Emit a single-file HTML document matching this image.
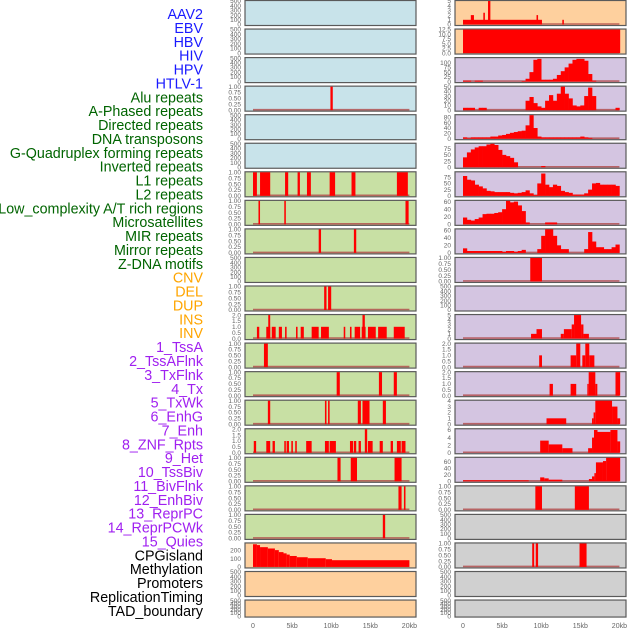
<!DOCTYPE html>
<html><head><meta charset="utf-8"><style>
html,body{margin:0;padding:0;background:#fff;}
svg{display:block;}
text{font-family:"Liberation Sans",sans-serif;}
</style></head><body>
<svg id="chart" width="630" height="630" viewBox="0 0 630 630" xmlns="http://www.w3.org/2000/svg"></svg>
<script>
// ---- track labels ----
const labelNames = ["AAV2","EBV","HBV","HIV","HPV","HTLV-1","Alu repeats","A-Phased repeats","Directed repeats","DNA transposons","G-Quadruplex forming repeats","Inverted repeats","L1 repeats","L2 repeats","Low_complexity A/T rich regions","Microsatellites","MIR repeats","Mirror repeats","Z-DNA motifs","CNV","DEL","DUP","INS","INV","1_TssA","2_TssAFlnk","3_TxFlnk","4_Tx","5_TxWk","6_EnhG","7_Enh","8_ZNF_Rpts","9_Het","10_TssBiv","11_BivFlnk","12_EnhBiv","13_ReprPC","14_ReprPCWk","15_Quies","CPGisland","Methylation","Promoters","ReplicationTiming","TAD_boundary"];
const labelGroups = [0,0,0,0,0,0,1,1,1,1,1,1,1,1,1,1,1,1,1,2,2,2,2,2,3,3,3,3,3,3,3,3,3,3,3,3,3,3,3,4,4,4,4,4];
const groupColors = ["#1a1aff","#006400","#ffa500","#a020f0","#000000"];
// ---- x axis ----
const xTickValues = [0,5,10,15,20];
const xTickLabels = ["0","5kb","10kb","15kb","20kb"];
// ---- y tick sets ----
const tBin = [1,0.75,0.5,0.25,0];
const tBinLab = ["1.00","0.75","0.50","0.25","0.00"];
const tTwo = [2,1.5,1,0.5,0];
const tTwoLab = ["2.0","1.5","1.0","0.5","0.0"];
const tEmpty = [500,400,300,200,100,0];
const tEmptyLab = ["500","400","300","200","100","0"];
// ---- left column data (segments: start kb, end kb, value) ----
const L3 = [[9.9,10.2,1]];
const L6 = [[0,0.5,1],[0.9,2.2,1],[4.1,4.5,1],[5.7,6.0,1],[6.9,7.4,1],[9.8,10.5,1],[12.6,13.1,1],[18.4,19.8,1]];
const L7 = [[0.7,0.9,1],[4.0,4.2,1],[19.5,19.9,1]];
const L8 = [[8.4,8.7,1],[12.9,13.2,1]];
const L10 = [[9.1,9.4,1],[9.6,10.0,1]];
const L11 = [[0.5,0.8,1],[1.7,2.2,1],[1.95,2.2,2],[2.4,2.9,1],[3.3,3.7,1],[4.1,4.3,1],[5.5,5.7,1],[6.1,6.5,1],[7.5,8.4,1],[8.7,9.7,1],[11.6,11.8,1],[12.4,12.6,1],[13.0,13.7,1],[13.9,14.4,1],[14.0,14.3,2],[14.7,15.7,1],[16.0,17.1,1],[18.0,19.4,1]];
const L12 = [[1.4,1.9,1]];
const L13 = [[10.7,11.1,1],[16.1,16.5,1],[18.0,18.4,1]];
const L14 = [[1.9,2.2,1],[9.2,9.4,1],[9.6,9.8,1],[13.4,13.8,1],[14.0,14.9,1],[16.6,17.0,1]];
const L15 = [[0.1,0.4,1],[1.7,2.2,1],[2.5,2.8,1],[4.0,4.2,1],[4.3,4.6,1],[4.9,5.1,1],[5.4,5.6,1],[6.8,7.5,1],[9.2,9.7,1],[9.8,10.6,1],[12.4,12.8,1],[12.9,13.2,1],[13.5,13.8,1],[14.3,14.6,2],[14.7,15.3,1],[16.2,16.6,1],[17.6,17.9,1],[18.4,18.9,1],[19.0,19.5,1]];
const L16 = [[10.8,11.2,1],[12.5,13.3,1],[18.1,19.0,1]];
const L17 = [[18.6,19.0,1],[19.3,19.5,1]];
const L18 = [[16.6,16.9,1]];
const L19 = [[0,0.5,275],[0.5,0.9,265],[0.9,1.9,240],[1.9,2.8,224],[2.8,3.3,204],[3.3,3.9,180],[3.9,4.3,165],[4.3,4.7,150],[4.7,5.6,133],[5.6,7.0,118],[7.0,9.3,106],[9.3,10.1,94],[10.1,20,82]];
// ---- right column data ----
const R0 = [[0,10.1,1],[1.0,1.4,2],[2.6,2.8,2.5],[3.2,3.5,5],[9.4,9.6,2],[12.7,12.9,1]];
const R1 = [[0,20.1,12.5]];
// profiles: 0.5 kb bins, 0..20 kb
const R2 = [5,5,0,5,5,0,0,0,0,0,0,0,0,0,0,3,15,50,115,120,10,10,10,15,35,55,75,95,115,120,120,110,40,5,0,0,0,0,0,0];
const R3 = [5,5,5,0,5,5,0,0,0,0,0,0,0,0,0,0,20,28,15,8,5,20,32,20,35,50,35,25,10,8,10,30,48,30,0,0,0,0,0,5];
const R4 = [5,2,5,5,5,5,5,8,8,12,14,18,22,25,28,30,50,88,40,8,5,5,5,5,5,5,5,5,5,5,8,5,3,0,0,0,0,0,0,0];
const R5 = [40,60,72,80,85,85,92,95,90,70,50,45,38,20,0,0,0,0,0,0,5,0,0,0,0,0,0,0,0,0,0,0,0,0,0,0,0,0,0,0];
const R6 = [80,65,62,45,38,30,20,18,15,15,15,15,12,10,12,15,22,10,3,50,90,45,35,45,40,20,15,12,5,5,5,10,25,50,52,45,45,45,45,40];
const R7 = [18,12,10,14,18,27,28,28,30,32,40,62,58,60,50,35,5,0,0,0,0,5,5,5,0,0,0,0,0,0,0,0,0,0,0,0,0,0,0,0];
const R8 = [12,5,5,5,5,5,5,5,5,5,3,5,5,3,5,8,0,0,0,10,45,62,62,45,20,10,10,0,0,0,0,10,55,30,15,15,10,10,15,22];
const R9 = [[8.6,10.1,1]];
const R11 = [[8.7,9.4,1],[9.4,10.1,2],[12.5,12.9,1],[12.9,13.9,2],[13.9,14.2,3],[14.2,15.1,5],[15.1,15.4,3],[15.4,16.1,1]];
const R12 = [[9.74,10.1,1],[13.76,14.48,1],[14.48,15.0,2],[15.26,15.64,1],[15.64,16.15,2],[16.15,16.8,1]];
const R13 = [[11.07,11.5,1],[13.76,14.48,1],[15.9,16.07,1],[16.07,16.92,2],[16.92,17.18,1],[19.5,20.1,2]];
const R14 = [[10.68,13.2,1],[16.5,16.7,1],[16.7,16.92,2],[16.92,19.06,4],[19.06,19.75,3],[19.75,20.1,1]];
const R15 = [[9.87,10.96,3.2],[10.96,12.7,2.2],[12.7,14.0,1.2],[16.0,16.5,1.2],[16.5,16.75,4],[16.75,17.2,6],[17.2,18.85,5.5],[18.85,19.75,6],[19.75,20.1,3]];
const R16 = [[0,8.4,3],[9.87,10.4,12],[10.4,10.96,9],[10.96,12.7,5],[16.1,16.5,7],[16.5,16.8,15],[16.8,17.0,25],[17.0,17.9,58],[17.9,18.3,62],[18.3,20.1,72]];
const R17 = [[9.25,10.1,1],[14.3,16.1,1]];
const R19 = [[8.85,9.1,1],[9.3,9.6,1],[14.9,15.8,1]];

const BLUE="#c8e3ea", GREEN="#c8e0a4", ORANGE="#fed09e", PURPLE="#d4c5e1", GRAY="#d0d0d0";
const leftBg = [BLUE,BLUE,BLUE,BLUE,BLUE,BLUE,GREEN,GREEN,GREEN,GREEN,GREEN,GREEN,GREEN,GREEN,GREEN,GREEN,GREEN,GREEN,GREEN,ORANGE,ORANGE,ORANGE];
const rightBg = [ORANGE,ORANGE,PURPLE,PURPLE,PURPLE,PURPLE,PURPLE,PURPLE,PURPLE,PURPLE,PURPLE,PURPLE,PURPLE,PURPLE,PURPLE,PURPLE,PURPLE,GRAY,GRAY,GRAY,GRAY,GRAY];

function E(){return {ymax:500,ticks:tEmpty,labs:tEmptyLab};}
function B(d){return {segs:d,ymax:1,ticks:tBin,labs:tBinLab};}
function T(d){return {segs:d,ymax:2,ticks:tTwo,labs:tTwoLab};}
const leftPanels = [E(),E(),E(),B(L3),E(),E(),B(L6),B(L7),B(L8),E(),B(L10),T(L11),B(L12),B(L13),B(L14),T(L15),B(L16),B(L17),B(L18),
  {segs:L19,ymax:285,ticks:[200,100,0],labs:["200","100","0"],nobase:true},E(),E()];
const rightPanels = [
  {segs:R0,ymax:5,ticks:[5,4,3,2,1,0],labs:["5","4","3","2","1","0"]},
  {segs:R1,ymax:12.5,ticks:[12.5,10,7.5,5,2.5,0],labs:["12.5","10.0","7.5","5.0","2.5","0.0"]},
  {prof:R2,ymax:124,ticks:[100,75,50,25,0],labs:["100","75","50","25","0"]},
  {prof:R3,ymax:50,ticks:[50,40,30,20,10,0],labs:["50","40","30","20","10","0"]},
  {prof:R4,ymax:88,ticks:[80,60,40,20,0],labs:["80","60","40","20","0"]},
  {prof:R5,ymax:95,ticks:[75,50,25,0],labs:["75","50","25","0"]},
  {prof:R6,ymax:95,ticks:[75,50,25,0],labs:["75","50","25","0"]},
  {prof:R7,ymax:62,ticks:[60,40,20,0],labs:["60","40","20","0"]},
  {prof:R8,ymax:62,ticks:[60,40,20,0],labs:["60","40","20","0"]},
  B(R9),E(),
  {segs:R11,ymax:5,ticks:[5,4,3,2,1,0],labs:["5","4","3","2","1","0"]},
  T(R12),T(R13),
  {segs:R14,ymax:4,ticks:[4,3,2,1,0],labs:["4","3","2","1","0"]},
  {segs:R15,ymax:6.2,ticks:[6,4,2,0],labs:["6","4","2","0"]},
  {segs:R16,ymax:72,ticks:[60,40,20,0],labs:["60","40","20","0"]},
  B(R17),E(),B(R19),E(),E()];

const NS="http://www.w3.org/2000/svg";
const svg=document.getElementById('chart');
function mk(tag,attrs,parent){const e=document.createElementNS(NS,tag);for(const k in attrs)e.setAttribute(k,attrs[k]);(parent||svg).appendChild(e);return e;}

// labels
labelNames.forEach((n,i)=>{
  const t=mk('text',{x:203,y:(14+13.88*i+5).toFixed(1),'text-anchor':'end','font-size':'14.3',fill:groupColors[labelGroups[i]]});
  t.textContent=n;
  
  
});

function drawColumn(panels,bgs,px,x0,side){
  const xs = kb => x0 + kb*7.82;
  panels.forEach((p,i)=>{
    const top = i*28.55, h = (i===21)?17:25;
    const g=mk('g',{});
    
    
    mk('rect',{x:px,y:top+0.5,width:171,height:h,fill:bgs[i],stroke:'#5a5a5a','stroke-width':1.2},g);
    const ys = v => top + h - 0.5 - Math.min(v,p.ymax)/p.ymax*(h-1.5);
    p.ticks.forEach((tv,k)=>{
      const t=mk('text',{x:px-4,y:(ys(tv)+2.2).toFixed(1),'text-anchor':'end','font-size':'6.5',fill:'#666'},g);
      t.textContent=p.labs[k];
      
      
    });
    const hasData = p.segs||p.prof;
    if(hasData && !p.nobase){
      const b=mk('line',{x1:xs(0),x2:xs(20),y1:ys(0)-0.5,y2:ys(0)-0.5,stroke:'#b04848','stroke-width':1.6,'stroke-opacity':0.8},g);
      
      
    }
    if(p.segs){
      p.segs.forEach(s=>{
        const r=mk('rect',{x:xs(s[0]).toFixed(2),y:ys(s[2]).toFixed(2),width:Math.max(1,xs(s[1])-xs(s[0])).toFixed(2),height:(ys(0)-ys(s[2])).toFixed(2),fill:'#ff0000'},g);
        
        
      });
    }
    if(p.prof){
      p.prof.forEach((v,k)=>{
        if(v<=0) return;
        const r=mk('rect',{x:xs(k*0.5).toFixed(2),y:ys(v).toFixed(2),width:(xs(0.5)-xs(0)+0.3).toFixed(2),height:(ys(0)-ys(v)).toFixed(2),fill:'#ff0000'},g);
        
        
      });
    }
  });
  xTickValues.forEach((v,k)=>{
    const t=mk('text',{x:xs(v),y:628,'text-anchor':'middle','font-size':'7',fill:'#666'});
    t.textContent=xTickLabels[k];
    
    
  });
}
drawColumn(leftPanels,leftBg,245,253,'left');
drawColumn(rightPanels,rightBg,455,463,'right');
</script>
</body></html>
